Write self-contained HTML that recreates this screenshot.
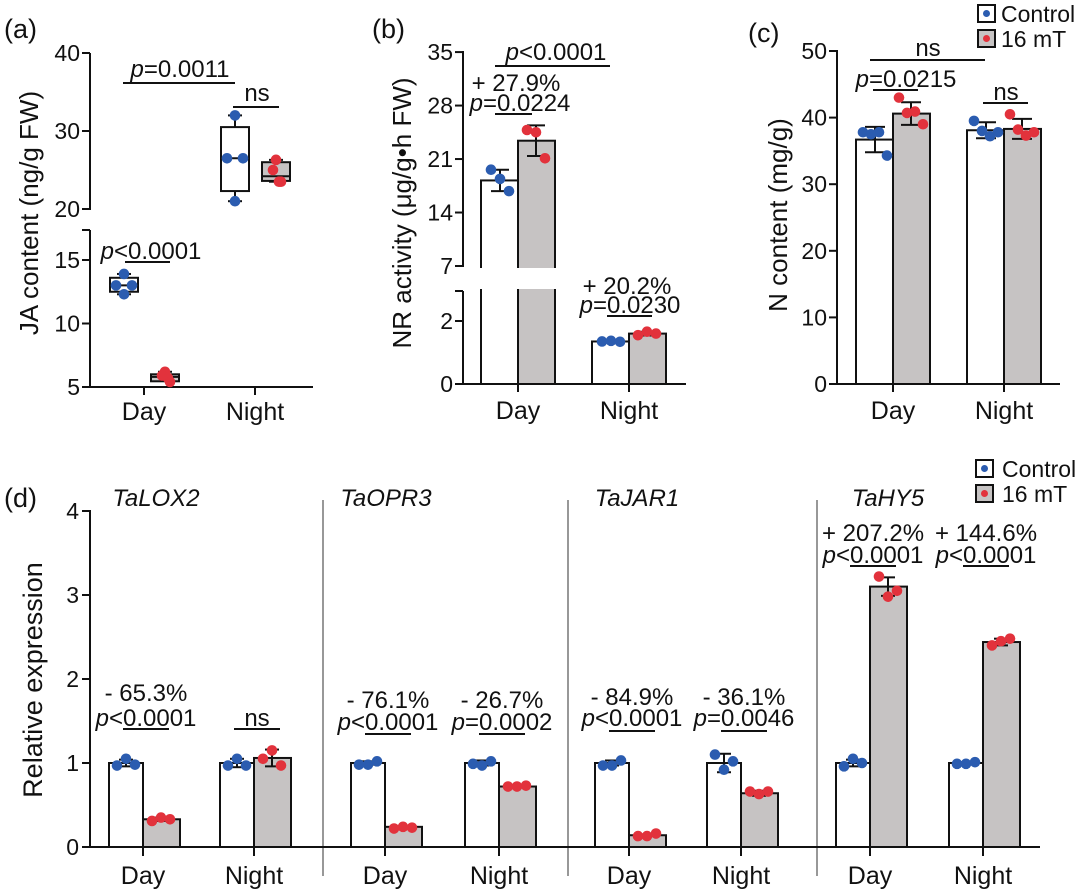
<!DOCTYPE html>
<html><head><meta charset="utf-8">
<style>
html,body{margin:0;padding:0;background:#fff;}
svg{display:block;font-family:"Liberation Sans",Arial,sans-serif;}
</style></head>
<body>
<svg id="fig" width="1080" height="896" viewBox="0 0 1080 896" xmlns="http://www.w3.org/2000/svg"></svg>
<script>
// ---------- Panel (a) JA content box plots ----------
const aCategories = ['Day', 'Night'];
const aCtrlBox = [[12.3, 12.5, 13.0, 13.6, 13.9], [21.0, 22.3, 26.5, 30.5, 32.0]]; // min,q1,med,q3,max
const aTrtBox = [[5.5, 5.45, 5.8, 6.0, 6.2], [23.5, 23.6, 24.2, 26.0, 26.3]];
const aCtrlPts = [[13.9, 13.0, 13.0, 12.3], [32.0, 26.5, 26.5, 21.0]];
const aTrtPts = [[6.2, 5.9, 5.7, 5.4], [26.3, 25.0, 23.5, 23.5]];
const aTicksUpper = [40, 30, 20];
const aTicksLower = [15, 10, 5];
// ---------- Panel (b) NR activity ----------
const bCategories = ['Day', 'Night'];
const bCtrl = [18.2, 1.35];
const bTrt = [23.4, 1.6];
const bCtrlSd = [1.4, 0.03];
const bTrtSd = [2.0, 0.06];
const bCtrlPts = [[19.6, 18.4, 16.8], [1.35, 1.37, 1.34]];
const bTrtPts = [[24.8, 24.5, 21.1], [1.55, 1.66, 1.6]];
const bTicksUpper = [35, 28, 21, 14, 7];
const bTicksLower = [2, 0];
// ---------- Panel (c) N content ----------
const cCategories = ['Day', 'Night'];
const cCtrl = [36.7, 38.1];
const cTrt = [40.6, 38.3];
const cCtrlSd = [1.9, 1.2];
const cTrtSd = [1.7, 1.5];
const cCtrlPts = [[37.8, 37.5, 37.8, 34.3], [39.5, 38.0, 37.2, 37.8]];
const cTrtPts = [[43.0, 40.7, 40.9, 39.0], [40.5, 38.2, 37.3, 37.8]];
const cTicks = [0, 10, 20, 30, 40, 50];
// ---------- Panel (d) relative expression ----------
const dGenes = ['TaLOX2', 'TaOPR3', 'TaJAR1', 'TaHY5'];
const dCategories = ['Day', 'Night'];
const dCtrl = [[1.0, 1.0], [1.0, 1.0], [1.0, 1.0], [1.0, 1.0]];
const dTrt = [[0.33, 1.06], [0.24, 0.72], [0.14, 0.64], [3.1, 2.44]];
const dCtrlSd = [[0.04, 0.05], [0.02, 0.03], [0.03, 0.11], [0.04, 0.01]];
const dTrtSd = [[0.02, 0.1], [0.01, 0.01], [0.01, 0.03], [0.11, 0.04]];
const dCtrlPts = [[[0.97, 1.05, 0.98], [0.97, 1.05, 0.97]], [[0.98, 0.98, 1.02], [0.99, 0.97, 1.02]], [[0.97, 0.97, 1.03], [1.1, 0.92, 1.02]], [[0.96, 1.05, 1.0], [0.99, 0.99, 1.01]]];
const dTrtPts = [[[0.31, 0.35, 0.33], [1.05, 1.15, 0.97]], [[0.22, 0.24, 0.23], [0.72, 0.72, 0.73]], [[0.13, 0.13, 0.16], [0.66, 0.63, 0.66]], [[3.22, 2.98, 3.05], [2.4, 2.45, 2.48]]];
const dPct = [['- 65.3%', ''], ['- 76.1%', '- 26.7%'], ['- 84.9%', '- 36.1%'], ['+ 207.2%', '+ 144.6%']];
const dPval = [['<0.0001', 'ns'], ['<0.0001', '=0.0002'], ['<0.0001', '=0.0046'], ['<0.0001', '<0.0001']];
const dTicks = [0, 1, 2, 3, 4];

const NS = 'http://www.w3.org/2000/svg';
const svg = document.getElementById('fig');
const BLUE = '#2b5cb0', RED = '#e2323c', GREY = '#c6c3c3';
const FT = 23, FA = 24, FC = 25, FY = 26;

function mk(tag, attrs, name, parent) {
  const el = document.createElementNS(NS, tag);
  for (const k in attrs) el.setAttribute(k, attrs[k]);
  
  
  (parent || svg).appendChild(el);
  return el;
}
function line(x1, y1, x2, y2, name, w, col) {
  return mk('line', {x1: x1, y1: y1, x2: x2, y2: y2, stroke: col || '#111', 'stroke-width': w || 2}, name);
}
function txt(x, y, s, name, size, anchor, extra) {
  const t = mk('text', Object.assign({x: x, y: y, 'font-size': size || 21, 'text-anchor': anchor || 'middle', fill: '#111'}, extra || {}), name);
  t.textContent = s;
  return t;
}
function ptxt(x, y, rest, name, size) {
  const t = mk('text', {x: x, y: y, 'font-size': size || FA, 'text-anchor': 'middle', fill: '#111'}, name);
  if (rest === 'ns') { t.textContent = 'ns'; return t; }
  const i = document.createElementNS(NS, 'tspan');
  i.setAttribute('font-style', 'italic');
  i.textContent = 'p';
  t.appendChild(i);
  t.appendChild(document.createTextNode(rest));
  return t;
}
function dot(x, y, col, name, r) {
  return mk('circle', {cx: x, cy: y, r: r || 5.3, fill: col}, name);
}
function bar(x, w, y0, y1, fill, name) {
  return mk('rect', {x: x, y: Math.min(y0, y1), width: w, height: Math.abs(y0 - y1), fill: fill, stroke: '#111', 'stroke-width': 2}, name);
}
function errbar(x, yLo, yHi, name, cap) {
  line(x, yLo, x, yHi, name, 2);
  line(x - (cap || 10), yLo, x + (cap || 10), yLo, name + '-cap-low', 2);
  line(x - (cap || 10), yHi, x + (cap || 10), yHi, name + '-cap-high', 2);
}
const off3 = [-9, 0, 9], off4 = [-12, -4, 4, 12];
function pointsAt(cx, vals, yf, col, name) {
  const o = vals.length === 4 ? off4 : off3;
  vals.forEach((v, i) => dot(cx + o[i], yf(v), col, name));
}

// panel labels
txt(4, 38, '(a)', 'panel-label-a', 27, 'start');
txt(372, 38, '(b)', 'panel-label-b', 27, 'start');
txt(748, 42, '(c)', 'panel-label-c', 27, 'start');
txt(4, 507, '(d)', 'panel-label-d', 27, 'start');

// ================= Panel (a) =================
(function () {
  const ax = 90, xEnd = 313;
  const y = v => v >= 19 ? 209 - (v - 20) * 7.8 : 387 - (v - 5) * 12.7;
  const xs = [144, 255];
  line(ax, 53, ax, 210, 'a-y-axis-upper');
  line(ax, 230, ax, 388, 'a-y-axis-lower');
  line(ax - 8, 230, ax, 230, 'a-y-break-tick');
  line(ax - 1, 387, xEnd, 387, 'a-x-axis');
  aTicksUpper.concat(aTicksLower).forEach(t => {
    line(ax - 8, y(t), ax, y(t), 'a-y-tick');
    txt(ax - 10, y(t) + 8, String(t), 'a-y-tick-label', FT, 'end');
  });
  aCategories.forEach((c, i) => {
    line(xs[i], 387, xs[i], 395, 'a-x-tick');
    txt(xs[i], 420, c, 'a-x-label-' + c.toLowerCase(), FC);
    [[aCtrlBox[i], aCtrlPts[i], -20, '#fff', BLUE, 'control'], [aTrtBox[i], aTrtPts[i], 21, GREY, RED, '16mt']].forEach(g => {
      const b = g[0], cx = xs[i] + g[2];
      line(cx, y(b[0]), cx, y(b[4]), 'a-whisker-' + g[5]);
      line(cx - 7, y(b[0]), cx + 7, y(b[0]), 'a-whisker-cap');
      line(cx - 7, y(b[4]), cx + 7, y(b[4]), 'a-whisker-cap');
      bar(cx - 14, 28, y(b[1]), y(b[3]), g[3], 'a-box-' + c.toLowerCase() + '-' + g[5]);
      line(cx - 14, y(b[2]), cx + 14, y(b[2]), 'a-median');
      const o = [0, -8, 8, 0];
      g[1].forEach((v, k) => dot(cx + (k === 3 ? 0 : o[k]) + (g[5] === '16mt' ? [0, 5, -5, 5][k] : 0), y(v), g[4], 'a-point-' + g[5]));
    });
  });
  line(123, 83, 235, 83, 'a-sig-line-day-night');
  ptxt(180, 77, '=0.0011', 'a-sig-text-day-night');
  line(233, 107, 279, 107, 'a-sig-line-night');
  ptxt(257, 101, 'ns', 'a-sig-text-night');
  line(125, 262, 170, 262, 'a-sig-line-day');
  ptxt(151, 259, '<0.0001', 'a-sig-text-day');
  txt(0, 0, 'JA content (ng/g FW)', 'a-y-axis-title', FY, 'middle', {transform: 'translate(38,213) rotate(-90)'});
})();

// ================= Panel (b) =================
(function () {
  const ax = 463, xEnd = 686;
  const y = v => v >= 5 ? 266 - (v - 7) * 7.64 : 384 - v * 31.5;
  const xs = [518, 629];
  bCategories.forEach((c, i) => {
    bar(xs[i] - 37, 37, 384, y(bCtrl[i]), '#fff', 'b-bar-' + c.toLowerCase() + '-control');
    bar(xs[i], 37, 384, y(bTrt[i]), GREY, 'b-bar-' + c.toLowerCase() + '-16mt');
  });
  mk('rect', {x: 455, y: 268, width: 110, height: 21, fill: '#fff'}, 'b-axis-break-gap');
  bCategories.forEach((c, i) => {
    errbar(xs[i] - 18, y(bCtrl[i] - bCtrlSd[i]), y(bCtrl[i] + bCtrlSd[i]), 'b-errbar-control', 9);
    errbar(xs[i] + 18, y(bTrt[i] - bTrtSd[i]), y(bTrt[i] + bTrtSd[i]), 'b-errbar-16mt', 9);
    pointsAt(xs[i] - 18, bCtrlPts[i], y, BLUE, 'b-point-control');
    pointsAt(xs[i] + 18, bTrtPts[i], y, RED, 'b-point-16mt');
    line(xs[i], 384, xs[i], 392, 'b-x-tick');
    txt(xs[i], 419, c, 'b-x-label-' + c.toLowerCase(), FC);
  });
  line(ax, 51, ax, 267, 'b-y-axis-upper');
  line(ax, 291, ax, 385, 'b-y-axis-lower');
  line(ax - 8, 291, ax, 291, 'b-y-break-tick');
  line(ax - 1, 384, xEnd, 384, 'b-x-axis');
  bTicksUpper.concat(bTicksLower).forEach(t => {
    line(ax - 8, y(t), ax, y(t), 'b-y-tick');
    txt(ax - 10, y(t) + 8, String(t), 'b-y-tick-label', FT, 'end');
  });
  line(495, 66, 610, 66, 'b-sig-line-day-night');
  ptxt(556, 60, '<0.0001', 'b-sig-text-day-night');
  txt(516, 91, '+ 27.9%', 'b-pct-day', FA);
  line(495, 114, 532, 114, 'b-sig-line-day');
  ptxt(520, 111, '=0.0224', 'b-sig-text-day');
  txt(627, 294, '+ 20.2%', 'b-pct-night', FA);
  line(607, 316, 652, 316, 'b-sig-line-night');
  ptxt(630, 313, '=0.0230', 'b-sig-text-night');
  txt(0, 0, 'NR activity (μg/g•h FW)', 'b-y-axis-title', FY, 'middle', {transform: 'translate(411,213) rotate(-90)'});
})();

// ================= Panel (c) =================
(function () {
  const ax = 837, xEnd = 1060;
  const y = v => 384 - v * 6.66;
  const xs = [893, 1004];
  cCategories.forEach((c, i) => {
    bar(xs[i] - 37, 37, 384, y(cCtrl[i]), '#fff', 'c-bar-' + c.toLowerCase() + '-control');
    bar(xs[i], 37, 384, y(cTrt[i]), GREY, 'c-bar-' + c.toLowerCase() + '-16mt');
    errbar(xs[i] - 18, y(cCtrl[i] - cCtrlSd[i]), y(cCtrl[i] + cCtrlSd[i]), 'c-errbar-control', 10);
    errbar(xs[i] + 18, y(cTrt[i] - cTrtSd[i]), y(cTrt[i] + cTrtSd[i]), 'c-errbar-16mt', 10);
    pointsAt(xs[i] - 18, cCtrlPts[i], y, BLUE, 'c-point-control');
    pointsAt(xs[i] + 18, cTrtPts[i], y, RED, 'c-point-16mt');
    line(xs[i], 384, xs[i], 392, 'c-x-tick');
    txt(xs[i], 419, c, 'c-x-label-' + c.toLowerCase(), FC);
  });
  line(ax, 50, ax, 385, 'c-y-axis');
  line(ax - 1, 384, xEnd, 384, 'c-x-axis');
  cTicks.forEach(t => {
    line(ax - 8, y(t), ax, y(t), 'c-y-tick');
    txt(ax - 10, y(t) + 8, String(t), 'c-y-tick-label', FT, 'end');
  });
  line(870, 60, 985, 60, 'c-sig-line-day-night');
  txt(928, 56, 'ns', 'c-sig-text-day-night', FA);
  line(873, 90, 918, 90, 'c-sig-line-day');
  ptxt(906, 87, '=0.0215', 'c-sig-text-day');
  line(983, 103, 1028, 103, 'c-sig-line-night');
  txt(1006, 100, 'ns', 'c-sig-text-night', FA);
  txt(0, 0, 'N content (mg/g)', 'c-y-axis-title', FY, 'middle', {transform: 'translate(787,215) rotate(-90)'});
  // legend
  mk('rect', {x: 978, y: 5, width: 17, height: 17, fill: '#fff', stroke: '#111', 'stroke-width': 2}, 'legend-swatch-control');
  dot(986.5, 13.5, BLUE, 'legend-dot-control', 3.5);
  txt(1001, 22, 'Control', 'legend-label-control', 23, 'start');
  mk('rect', {x: 978, y: 30, width: 17, height: 17, fill: GREY, stroke: '#111', 'stroke-width': 2}, 'legend-swatch-16mt');
  dot(986.5, 38.5, RED, 'legend-dot-16mt', 3.5);
  txt(1001, 47, '16 mT', 'legend-label-16mt', 23, 'start');
})();

// ================= Panel (d) =================
(function () {
  const ax = 90, xEnd = 1040;
  const y = v => 847 - v * 84;
  const dayX = [143, 385, 629, 870], nightX = [254, 499, 741, 983];
  const titleX = [156, 386, 637, 888];
  const annY = [[693, 718, 729], [700, 722, 734], [697, 718, 731], [533, 555, 566]];
  [323, 568, 817].forEach(sx => line(sx, 500, sx, 876, 'd-gene-separator', 1.5, '#777'));
  dGenes.forEach((g, gi) => {
    txt(titleX[gi], 506, g, 'd-gene-title-' + g.toLowerCase(), 24, 'middle', {'font-style': 'italic'});
    dCategories.forEach((c, ci) => {
      const tx = ci === 0 ? dayX[gi] : nightX[gi];
      bar(tx - 34, 34, 847, y(dCtrl[gi][ci]), '#fff', 'd-bar-' + g.toLowerCase() + '-' + c.toLowerCase() + '-control');
      bar(tx, 37, 847, y(dTrt[gi][ci]), GREY, 'd-bar-' + g.toLowerCase() + '-' + c.toLowerCase() + '-16mt');
      errbar(tx - 17, y(dCtrl[gi][ci] - dCtrlSd[gi][ci]), y(dCtrl[gi][ci] + dCtrlSd[gi][ci]), 'd-errbar-control', 7);
      errbar(tx + 18, y(dTrt[gi][ci] - dTrtSd[gi][ci]), y(dTrt[gi][ci] + dTrtSd[gi][ci]), 'd-errbar-16mt', 7);
      pointsAt(tx - 17, dCtrlPts[gi][ci], y, BLUE, 'd-point-control');
      pointsAt(tx + 18, dTrtPts[gi][ci], y, RED, 'd-point-16mt');
      line(tx, 847, tx, 856, 'd-x-tick');
      txt(tx, 884, c, 'd-x-label-' + c.toLowerCase(), FC);
      const cx = tx + 3;
      if (dPct[gi][ci]) txt(cx, annY[gi][0] + 8, dPct[gi][ci], 'd-pct-' + g.toLowerCase() + '-' + c.toLowerCase(), FA);
      ptxt(cx, annY[gi][1] + 8, dPval[gi][ci], 'd-sig-text-' + g.toLowerCase() + '-' + c.toLowerCase());
      line(cx - 23, annY[gi][2], cx + 23, annY[gi][2], 'd-sig-line-' + g.toLowerCase() + '-' + c.toLowerCase());
    });
  });
  line(ax, 510, ax, 848, 'd-y-axis');
  line(ax - 1, 847, xEnd, 847, 'd-x-axis');
  dTicks.forEach(t => {
    line(ax - 8, y(t), ax, y(t), 'd-y-tick');
    txt(ax - 11, y(t) + 8, String(t), 'd-y-tick-label', FT, 'end');
  });
  txt(0, 0, 'Relative expression', 'd-y-axis-title', 27, 'middle', {transform: 'translate(42,680) rotate(-90)'});
  // legend
  mk('rect', {x: 976, y: 460, width: 17, height: 17, fill: '#fff', stroke: '#111', 'stroke-width': 2}, 'd-legend-swatch-control');
  dot(984.5, 468.5, BLUE, 'd-legend-dot-control', 3.5);
  txt(1002, 477, 'Control', 'd-legend-label-control', 23, 'start');
  mk('rect', {x: 976, y: 485, width: 17, height: 17, fill: GREY, stroke: '#111', 'stroke-width': 2}, 'd-legend-swatch-16mt');
  dot(984.5, 493.5, RED, 'd-legend-dot-16mt', 3.5);
  txt(1002, 502, '16 mT', 'd-legend-label-16mt', 23, 'start');
})();
</script>
</body></html>
